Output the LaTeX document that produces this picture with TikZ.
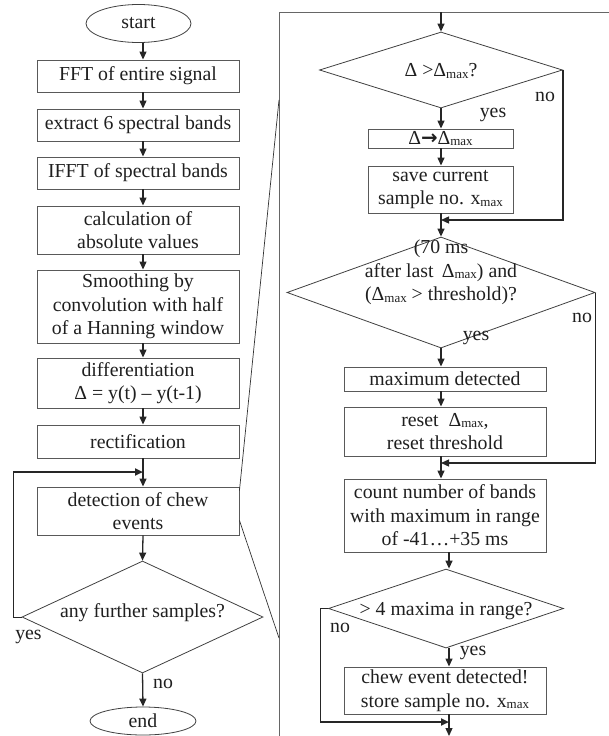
\documentclass[tikz,border=0pt]{standalone}
\usepackage{fontspec}
\setmainfont{Liberation Serif}
\newfontfamily\arrowfont{DejaVu Sans}
\usetikzlibrary{arrows.meta,shapes.geometric,calc}
% small "max" subscript
\newcommand\submax{\raisebox{-1.5pt}{\fontsize{13}{13}\selectfont max}}
\begin{document}
\begin{tikzpicture}[x=1pt,y=-1pt,
  every node/.style={font=\fontsize{19.8}{23.5}\selectfont, text=black!88},
  box/.style={draw=black!65, line width=0.9pt, rectangle, inner sep=0pt, align=center},
  dec/.style={draw=black!75, line width=0.8pt, diamond, inner sep=0pt},
  term/.style={draw=black!75, line width=0.8pt, ellipse, inner sep=0pt},
  tip/.style={-{Triangle[length=8pt,width=7pt]}},
  flow/.style={draw=black!85, line width=1.3pt, tip},
  plain/.style={draw=black!85, line width=0.9pt},
  heavy/.style={draw=black!85, line width=2.4pt, tip},
  panel/.style={draw=black!60, line width=1pt},
  zoomline/.style={draw=black!80, line width=0.7pt},
  lbl/.style={inner sep=0pt}]
\useasboundingbox (0,0) rectangle (609,736);

% arrow axes
\coordinate (axL) at (143,0);
\coordinate (axR) at (441,0);
\coordinate (axR2) at (449,0);

% ---------- main flow ----------
\node[term, minimum width=105pt, minimum height=38pt] (start) at (138.5,23.5) {start};
\node[box, minimum width=202pt, minimum height=32pt] (fft) at (138,76) {FFT of entire signal};
\node[box, minimum width=202pt, minimum height=32pt] (extract) at (138,125) {extract 6 spectral bands};
\node[box, minimum width=202pt, minimum height=32pt] (ifft) at (138,173) {IFFT of spectral bands};
\node[box, minimum width=202pt, minimum height=48pt] (calc) at (138,230) {calculation of\\absolute values};
\node[box, minimum width=202pt, minimum height=73pt] (smooth) at (138,306.5) {Smoothing by\\convolution with half\\of a Hanning window};
\node[box, minimum width=202pt, minimum height=50pt] (diff) at (138,383) {differentiation\\Δ = y(t) – y(t-1)};
\node[box, minimum width=202pt, minimum height=33pt] (rect) at (138,441.5) {rectification};
\node[box, minimum width=202pt, minimum height=48pt] (detect) at (138,511) {detection of chew\\events};
\node[dec, minimum width=241pt, minimum height=112pt,
      label={[yshift=4pt]center:any further samples?}] (anyq) at (142.5,617) {};
\node[term, minimum width=106pt, minimum height=28pt] (end) at (143,721) {end};

\draw[flow] (start.south -| axL) -- (fft.north -| axL);
\draw[flow] (fft.south -| axL) -- (extract.north -| axL);
\draw[flow] (extract.south -| axL) -- (ifft.north -| axL);
\draw[flow] (ifft.south -| axL) -- (calc.north -| axL);
\draw[flow] (calc.south -| axL) -- (smooth.north -| axL);
\draw[flow] (smooth.south -| axL) -- (diff.north -| axL);
\draw[flow] (diff.south -| axL) -- (rect.north -| axL);
\draw[flow] (rect.south -| axL) -- (detect.north -| axL);
\draw[flow] (detect.south -| axL) -- (anyq.north);
\draw[flow] (anyq.south) -- (end.north);

% repeat loop
\coordinate (jL) at (143,472);
\coordinate (lx) at (13,0);
\draw[plain] (anyq.west) -- (anyq.west -| lx) -- (jL -| lx);
\draw[heavy] (jL -| lx) -- (jL);
\node[lbl] at (28.5,637) {yes};
\node[lbl] at (163,684) {no};

% ---------- detail panel ----------
\coordinate (pTL) at (279,12);
\coordinate (pTR) at (609,12);
\coordinate (pBL) at (279,736);
\draw[panel] (pTR) -- (pTL) -- (pBL);
\coordinate (zA) at (279,100);
\coordinate (zB) at (279,638);
\draw[zoomline] ($(detect.north east)+(0,4)$) -- (zA);
\draw[zoomline] ($(detect.south east)+(0,-15)$) -- (zB);

\node[dec, minimum width=243pt, minimum height=76pt,
      label={[yshift=-1pt]center:Δ >Δ\submax?}] (d1) at (441,70) {};
\node[box, minimum width=145pt, minimum height=19pt] (dset) at (440.5,138.5) {Δ{\arrowfont\bfseries →}Δ\submax};
\node[box, minimum width=145pt, minimum height=47pt] (save) at (440.5,189.5) {save current\\sample no. x\submax};
\node[dec, minimum width=308pt, minimum height=111pt,
      label={[align=center, yshift=20pt]center:{(70 ms\\after last \,Δ\submax) and\\(Δ\submax\ > threshold)?}}] (d2) at (441,292.5) {};
\node[box, minimum width=202pt, minimum height=24pt] (maxd) at (445,379) {maximum detected};
\node[box, minimum width=202pt, minimum height=49pt] (reset) at (445,431.5) {reset \ Δ\submax,\\reset threshold};
\node[box, minimum width=202pt, minimum height=73pt] (count) at (445,515.5) {count number of bands\\with maximum in range\\of -41…+35 ms};
\node[dec, minimum width=235pt, minimum height=79pt,
      label={[yshift=-3pt]center:> 4 maxima in range?}] (d3) at (446,608.5) {};
\node[box, minimum width=202pt, minimum height=47pt] (chew) at (445,690.5) {chew event detected!\\store sample no. x\submax};

\draw[flow] (pTL -| axR) -- (d1.north);
\draw[flow] (d1.south) -- (dset.north -| d1.south);
\draw[flow] (dset.south -| axR) -- (save.north -| axR);
\coordinate (m1) at (441,220);
\draw[flow] (d1.east) -- (d1.east |- m1) -- (m1);
\draw[flow] (save.south -| axR) -- (d2.north);
\node[lbl] at (545,97) {no};
\node[lbl] at (493,115) {yes};

\coordinate (m2) at (441,463);
\draw[flow] (d2.south) -- (maxd.north -| axR);
\draw[flow] (d2.east) -- (d2.east |- m2) -- (m2);
\draw[flow] (maxd.south -| axR) -- (reset.north -| axR);
\draw[flow] (reset.south -| axR) -- (count.north -| axR);
\node[lbl] at (582,318) {no};
\node[lbl] at (476,338) {yes};

\draw[flow] (count.south -| axR2) -- (d3.north -| axR2);
\draw[flow] (d3.south -| axR2) -- (chew.north -| axR2);
\coordinate (m3) at (449,722);
\coordinate (lx2) at (320,0);
\draw[plain] (d3.west) -- (d3.west -| lx2) -- (m3 -| lx2);
\draw[heavy] (m3 -| lx2) -- (m3);
\coordinate (exit) at (449,736);
\draw[flow] (chew.south -| axR2) -- (exit);
\node[lbl] at (340,628) {no};
\node[lbl] at (473,653) {yes};
\end{tikzpicture}
\end{document}
